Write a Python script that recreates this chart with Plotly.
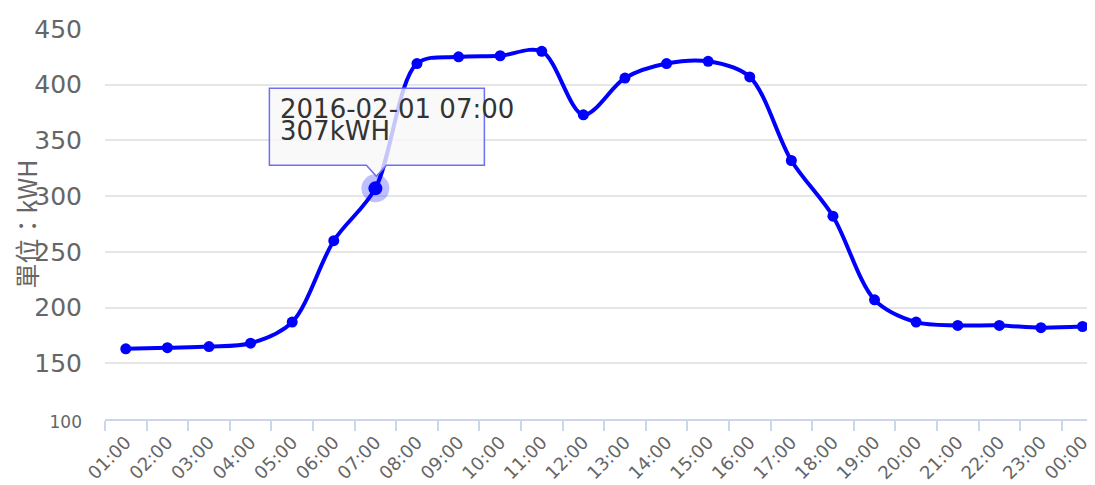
import plotly.graph_objects as go

hours = ["01:00", "02:00", "03:00", "04:00", "05:00", "06:00", "07:00", "08:00",
         "09:00", "10:00", "11:00", "12:00", "13:00", "14:00", "15:00", "16:00",
         "17:00", "18:00", "19:00", "20:00", "21:00", "22:00", "23:00", "00:00"]
usage_kwh = [163, 164, 165, 168, 187, 260, 307, 419, 425, 426, 430, 373,
             406, 419, 421, 407, 332, 282, 207, 187, 184, 184, 182, 183]

y_ticks = [100, 150, 200, 250, 300, 350, 400, 450]
y_tick_text = ["<span style='font-size:17px'>100</span>"] + [str(v) for v in y_ticks[1:]]

hl_index = 6
hl_date = "2016-02-01"
hl_cat = hours[hl_index]
hl_val = usage_kwh[hl_index]

BLUE = "#0000ff"

fig = go.Figure()
fig.add_trace(go.Scatter(
    x=hours, y=usage_kwh, mode="lines+markers",
    line=dict(color=BLUE, width=4, shape="spline", smoothing=0.9),
    marker=dict(color=BLUE, size=11),
    hoverinfo="skip", showlegend=False,
))
# highlighted point (hover state)
fig.add_trace(go.Scatter(
    x=[hl_cat], y=[hl_val], mode="markers",
    marker=dict(color="rgba(0,0,255,0.25)", size=28),
    hoverinfo="skip", showlegend=False,
))
fig.add_trace(go.Scatter(
    x=[hl_cat], y=[hl_val], mode="markers",
    marker=dict(color=BLUE, size=14),
    hoverinfo="skip", showlegend=False,
))

# tooltip box with pointer, sized in pixels relative to the highlighted point
fig.add_shape(
    type="path", xref="x", yref="y", xsizemode="pixel", ysizemode="pixel",
    xanchor=hl_cat, yanchor=hl_val,
    path="M -106,100 L 109,100 L 109,23 L 11,23 L 1,12 L -9,23 L -106,23 Z",
    fillcolor="rgba(247,247,247,0.8)", line=dict(color="#6f6ff2", width=1.5),
    layer="above",
)
fig.add_annotation(
    x=hl_cat, y=hl_val, xref="x", yref="y", showarrow=False,
    text=f"{hl_date} {hl_cat}", xanchor="left", yanchor="middle",
    xshift=-97, yshift=79, font=dict(family="DejaVu Sans", size=26, color="#333333"),
)
fig.add_annotation(
    x=hl_cat, y=hl_val, xref="x", yref="y", showarrow=False,
    text=f"{hl_val}kWH", xanchor="left", yanchor="middle",
    xshift=-97, yshift=57, font=dict(family="DejaVu Sans", size=26, color="#333333"),
)

fig.update_layout(
    width=1087, height=477,
    margin=dict(l=97, r=0, t=21, b=66, autoexpand=False),
    plot_bgcolor="white", paper_bgcolor="white",
    font=dict(family="DejaVu Sans", color="#666666"),
    xaxis=dict(
        type="category", range=[-0.5, 23.3], automargin=False,
        tickson="boundaries", ticks="outside", ticklen=10, tickcolor="#ccd6eb", tickwidth=1.5,
        showline=True, linecolor="#ccd6eb", linewidth=1.5,
        showgrid=False, tickangle=-45, ticklabelstandoff=4,
        tickfont=dict(size=18, color="#666666"),
    ),
    yaxis=dict(
        range=[100, 450], tickvals=y_ticks, ticktext=y_tick_text, automargin=False,
        showgrid=True, gridcolor="#e6e6e6", gridwidth=1.5,
        zeroline=False, showline=False, ticks="",
        ticklabelstandoff=22,
        tickfont=dict(size=25, color="#666666"),
        title=dict(text="單位：kWH", font=dict(family="Noto Sans CJK TC", size=25, color="#666666"), standoff=0),
    ),
)

fig.write_html("out.html")
